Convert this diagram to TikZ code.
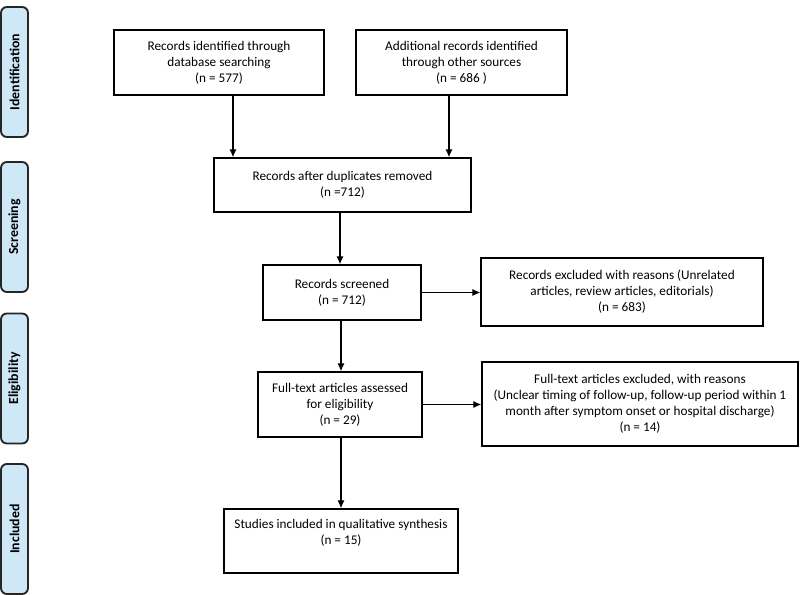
\documentclass[tikz,border=0pt]{standalone}
\usepackage{fontspec}
\setmainfont{Carlito}
\usetikzlibrary{arrows.meta}
\definecolor{phase}{HTML}{CFE8F8}
\begin{document}
\begin{tikzpicture}[x=0.03cm,y=-0.03cm]
    \tikzstyle{box} = [rectangle, draw=black, line width=1.2pt, align=center, font=\fontsize{11.3}{13.7}\selectfont, inner sep=2pt]
    \tikzstyle{phasebox} = [rectangle, rounded corners=5pt, draw=black!85, line width=1.6pt, fill=phase, rotate=90, minimum width=3.9cm, minimum height=0.81cm, font=\fontsize{11.8}{13}\selectfont\bfseries]
    \tikzstyle{arrow} = [line width=1.1pt, -{Latex[length=2.4mm,width=2.2mm]}]

    \useasboundingbox (0,0) rectangle (800,595);

    % phases
    \node [phasebox] (ident) at (14.5,72) {Identification};
    \node [phasebox] (screen) at (14.5,227) {Screening};
    \node [phasebox] (elig) at (14.5,378.5) {Eligibility};
    \node [phasebox] (incl) at (14.5,529) {Included};

    \node [box, minimum width=6.3cm, minimum height=1.95cm] (db) at (219,62.5) {Records identified through\\database searching\\(n = 577)};
    \node [box, minimum width=6.33cm, minimum height=1.95cm] (other) at (461.5,62.5) {Additional records identified\\through other sources\\(n = 686 )};
    \node [box, minimum width=7.71cm, minimum height=1.62cm] (dup) at (342.5,185) {Records after duplicates removed\\(n =712)};
    \node [box, minimum width=4.74cm, minimum height=1.65cm] (screened) at (342,292.5) {Records screened\\(n = 712)};
    \node [box, minimum width=8.46cm, minimum height=2.04cm] (excl) at (622,292) {Records excluded with reasons (Unrelated\\articles, review articles, editorials)\\(n = 683)};
    \node [box, minimum width=4.92cm, minimum height=1.95cm] (full) at (340,404.5) {Full-text articles assessed\\for eligibility\\(n = 29)};
    \node [box, minimum width=9.48cm, minimum height=2.52cm] (fullexcl) at (640,404) {Full-text articles excluded, with reasons\\(Unclear timing of follow-up, follow-up period within 1\\month after symptom onset or hospital discharge)\\(n = 14)};
    \node [box, minimum width=7.02cm, minimum height=1.92cm] (studies) at (341,541) {};
    \node [anchor=north, align=center, font=\fontsize{11.3}{13.7}\selectfont] at ([yshift=-0.2cm]studies.north) {Studies included in qualitative synthesis\\(n = 15)};

    \draw [arrow] (db.south -| 233,0) -- (dup.north -| 233,0);
    \draw [arrow] (other.south -| 449,0) -- (dup.north -| 449,0);
    \draw [arrow] (dup.south -| 340,0) -- (screened.north -| 340,0);
    \draw [arrow] (screened.east) -- (screened.east -| excl.west);
    \draw [arrow] (screened.south -| 341,0) -- (full.north -| 341,0);
    \draw [arrow] (full.east) -- (full.east -| fullexcl.west);
    \draw [arrow] (full.south -| 341,0) -- (studies.north -| 341,0);

\end{tikzpicture}
\end{document}
